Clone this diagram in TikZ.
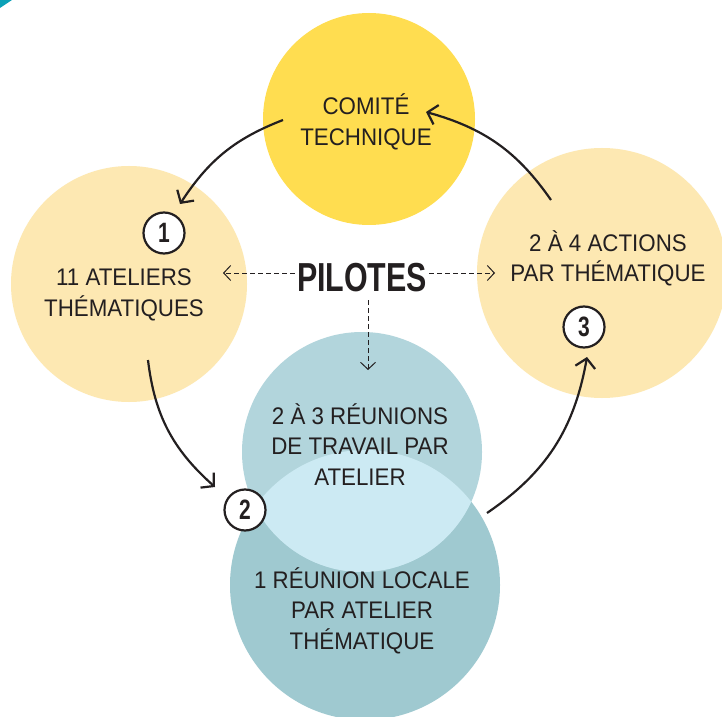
\documentclass[tikz,border=0pt]{standalone}
\usepackage{fontspec}
\setmainfont{Liberation Sans}[FakeStretch=0.93]
\newfontfamily\narrowfont{Liberation Sans}[FakeStretch=0.75]
\usetikzlibrary{arrows.meta,bending}
\definecolor{ink}{HTML}{231F20}
\definecolor{sun}{HTML}{FFDD50}
\definecolor{cream}{HTML}{FDE8B2}
\definecolor{pale}{HTML}{B2D5DC}
\definecolor{deep}{HTML}{9FC9D0}
\definecolor{lens}{HTML}{CCEAF3}
\definecolor{corner}{HTML}{0BA1B7}
\begin{document}
\begin{tikzpicture}[x=1pt,y=1pt,
    disc/.style={circle,inner sep=0pt,minimum size=#1},
    caption/.style={align=center,text=ink,font=\fontsize{24}{30.5}\selectfont},
    badge/.style={circle,draw=ink,line width=2.2pt,fill=white,minimum size=41pt,inner sep=0pt,text=ink,font=\narrowfont\bfseries\fontsize{28}{28}\selectfont},
    flow/.style={draw=ink,line width=2.2pt,-{Straight Barb[length=9pt,width=20pt]}},
    hint/.style={draw=ink,line width=1pt,dash pattern=on 4.5pt off 3.5pt,-{Straight Barb[length=7pt,width=15pt]}}]
    \useasboundingbox (0,0) rectangle (722,716);
    \fill[white] (0,0) rectangle (722,716);
    \fill[corner] (0,716) -- (12,716) -- (0,708) -- cycle;

    \node[disc=212pt,fill=sun] (comite) at (369,597) {};
    \node[disc=236pt,fill=cream] (ateliers) at (129,432) {};
    \node[disc=250pt,fill=cream] (actions) at (602,443) {};
    \node[disc=270pt,fill=deep] (locale) at (365,131) {};
    \node[disc=240pt,fill=pale] (reunions) at (362,264) {};
    \begin{scope}
    \clip (reunions.center) circle (120);
    \fill[lens] (locale.center) circle (135);
    \end{scope}

    \node[caption] (comiteT) at (366,594) {COMITÉ\\TECHNIQUE};
    \node[caption] (ateliersT) at (124,421) {11 ATELIERS\\THÉMATIQUES};
    \node[caption] (actionsT) at (608,457.5) {2 À 4 ACTIONS\\PAR THÉMATIQUE};
    \node[caption] (reunionsT) at (360,271.5) {2 À 3 RÉUNIONS\\DE TRAVAIL PAR\\ATELIER};
    \node[caption] (localeT) at (362,105.5) {1 RÉUNION LOCALE\\PAR ATELIER\\THÉMATIQUE};
    \node[text=ink,inner sep=2pt,font=\narrowfont\bfseries\fontsize{40.5}{40.5}\selectfont] (pilotes) at (362,438.5) {PILOTES};

    \node[badge] (n1) at (164,483) {1};
    \node[badge] (n2) at (245,206) {2};
    \node[badge] (n3) at (584,389) {3};

    \coordinate (a1s) at (283,596); \coordinate (a1e) at (180,512);
    \coordinate (a2s) at (148,356); \coordinate (a2e) at (215,229);
    \coordinate (a3s) at (487,203); \coordinate (a3e) at (587,359);
    \coordinate (a4s) at (551,516); \coordinate (a4e) at (426,604);
    \draw[flow] (a1s) to[bend right=18] (a1e);
    \draw[flow] (a2s) to[bend right=21] (a2e);
    \draw[flow] (a3s) to[bend right=23] (a3e);
    \draw[flow] (a4s) to[bend right=20] (a4e);

    \coordinate (pl) at (223,443);
    \coordinate (pr) at (495,443);
    \coordinate (pd) at (368,346);
    \draw[hint] (pilotes.west |- pl) -- (pl);
    \draw[hint] (pilotes.east |- pr) -- (pr);
    \draw[hint,shorten <=6pt] (pilotes.south -| pd) -- (pd);
\end{tikzpicture}
\end{document}
